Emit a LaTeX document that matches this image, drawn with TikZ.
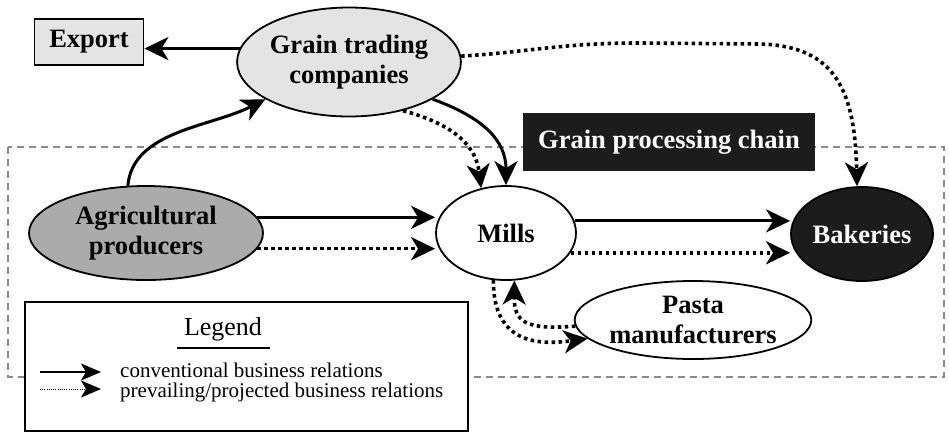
\documentclass[tikz,border=0pt]{standalone}
\usepackage{fontspec}
\setmainfont{Liberation Serif}
\usetikzlibrary{arrows.meta,shapes.geometric,calc}

\definecolor{lightfill}{HTML}{E4E4E4}
\definecolor{midfill}{HTML}{ABABAB}
\definecolor{darkfill}{HTML}{1C1C1C}
\definecolor{framegray}{HTML}{8A8A8A}

\tikzset{
  bigtip/.tip={Stealth[length=24pt,width=23pt,inset=7pt]},
  smalltip/.tip={Stealth[length=20pt,width=17pt,inset=5pt]},
  actor/.style={ellipse, draw=black, line width=1.8pt, inner sep=0pt,
    align=center, font=\fontsize{26.5}{29.5}\selectfont\bfseries},
  conv/.style={line width=3pt, -bigtip},
  proj/.style={line width=3.6pt, dash pattern=on 3.5pt off 3.5pt, -bigtip},
  legtext/.style={anchor=west, inner sep=0pt, font=\fontsize{21}{20}\selectfont},
}

\begin{document}
\begin{tikzpicture}[x=1pt,y=-1pt]
\useasboundingbox[fill=white] (0,0) rectangle (949,432);

% processing chain frame
\draw[framegray, line width=1.2pt, dash pattern=on 7pt off 5pt]
  (8,147) rectangle (944,377);

% actors
\node[draw=black, line width=1.8pt, fill=lightfill, minimum width=109pt,
  minimum height=46pt, inner sep=0pt, font=\fontsize{26.5}{29.5}\selectfont\bfseries]
  (export) at (89,42) {Export};
\node[actor, fill=lightfill, minimum width=200pt, minimum height=109pt]
  (gtc) at (349,62) {Grain trading\\companies};
\node[actor, fill=midfill, minimum width=234pt, minimum height=94pt]
  (agri) at (146,233) {Agricultural\\producers};
\node[actor, fill=white, minimum width=140pt, minimum height=94pt]
  (mills) at (506,233) {Mills};
\node[actor, fill=darkfill, text=white, minimum width=142pt, minimum height=94pt]
  (bak) at (862,234) {Bakeries};
\node[actor, fill=white, minimum width=234pt, minimum height=78pt]
  (pasta) at (693,320) {Pasta\\manufacturers};

% chain label
\node[fill=darkfill, text=white, minimum width=292pt, minimum height=58pt,
  inner sep=0pt, font=\fontsize{26.5}{29.5}\selectfont\bfseries]
  (chain) at (669,142) {Grain processing chain};

% conventional business relations
\draw[conv] (gtc.173) -- (gtc.173 -| export.east);
\draw[conv] (agri.111) .. controls +(5,-55) and +(-55,28) .. (gtc.204);
\draw[conv] (gtc.-24) .. controls +(50,18) and +(0,-45) .. (mills.north);
\draw[conv] (agri.8) -- (agri.8 -| mills.west);
\draw[conv] (mills.10) -- (mills.10 -| bak.west);

% prevailing / projected business relations
\draw[proj] (gtc.3) .. controls (530,52) and (560,43) .. (640,43) -- (760,44)
  .. controls (835,46) and (855,90) .. (bak.96);
\draw[proj] (gtc.-42) .. controls +(55,15) and +(-5,-40) .. (mills.119);
\draw[proj] (agri.-8) -- (agri.-8 -| mills.west);
\draw[proj] (mills.-17) -- (mills.-17 -| bak.west);
\draw[proj] (pasta.183) .. controls (525,330) and (514,322) .. (mills.-80);
\draw[proj] (mills.-105) .. controls (493,345) and (540,345) .. (pasta.190);

% legend
\draw[black, line width=1.4pt, fill=white] (25,302) rectangle (468,431);
\node[inner sep=0pt, anchor=base, font=\fontsize{26}{29}\selectfont]
  (legtitle) at (223,335) {Legend};
\draw[line width=1.2pt] (177,348) -- (270,348);
\coordinate (c1a) at (40,372);
\coordinate (c1b) at (101,372);
\coordinate (c2a) at (40,389);
\coordinate (c2b) at (101,389);
\draw[line width=2pt, -smalltip] (c1a) -- (c1b);
\draw[line width=1pt, dash pattern=on 1pt off 1.2pt, -smalltip] (c2a) -- (c2b);
\node[legtext, anchor=base west] (l1) at (120,377) {conventional business relations};
\node[legtext, anchor=base west] (l2) at (120,397) {prevailing/projected business relations};
\end{tikzpicture}
\end{document}
